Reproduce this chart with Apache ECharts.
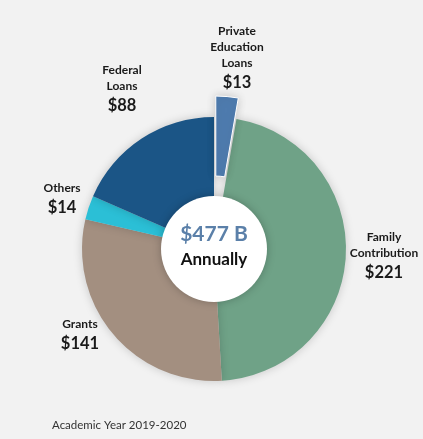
<!DOCTYPE html>
<html>
<head>
<meta charset="utf-8">
<script src="https://cdn.jsdelivr.net/npm/echarts@6/dist/echarts.min.js"></script>
<style>
html,body{margin:0;padding:0;background:#f2f2f2;}
#c{width:423px;height:439px;}
</style>
</head>
<body>
<div id="c"></div>
<script>
// Data
const categories = ['Private Education Loans', 'Family Contribution', 'Grants', 'Others', 'Federal Loans'];
const values = [13, 221, 141, 14, 88];
const colors = ['#4e7bae', '#6fa287', '#a38f80', '#2bbfd6', '#1b5586'];
const totalLabel = '$477 B';
const centerSub = 'Annually';
const footnote = 'Academic Year 2019-2020';

// Layout (label anchor points, not data)
const labelPos = [
  [237, 23],
  [384, 229],
  [80, 316],
  [62, 180],
  [122, 62]
];

const chart = echarts.init(document.getElementById('c'));
const FONT = 'Lato, "Open Sans", sans-serif';

const graphics = categories.map((name, i) => ({
  type: 'text',
  z: 100,
  style: {
    x: labelPos[i][0], y: labelPos[i][1],
    text: '{n|' + name.split(' ').join('}\n{n|') + '}\n{v|$' + values[i] + '}',
    textAlign: 'center',
    textVerticalAlign: 'top',
    fill: '#1a1a1a',
    font: 'bold 12px ' + FONT,
    rich: {
      n: {fontSize: 12, fontWeight: 'bold', lineHeight: 16, fontFamily: FONT, fill: '#1a1a1a'},
      v: {fontSize: 16.5, fontWeight: 'bold', lineHeight: 24, fontFamily: FONT, fill: '#1a1a1a'}
    }
  }
}));

graphics.push({
  type: 'text', z: 100,
  style: {x: 214, y: 234, text: totalLabel, textAlign: 'center', textVerticalAlign: 'middle',
    font: 'bold 21px ' + FONT, fill: '#5b80a9'}
});
graphics.push({
  type: 'text', z: 100,
  style: {x: 214, y: 260, text: centerSub, textAlign: 'center', textVerticalAlign: 'middle',
    font: 'bold 17px ' + FONT, fill: '#111'}
});
graphics.push({
  type: 'text', z: 100,
  style: {x: 52, y: 425, text: footnote, textAlign: 'left', textVerticalAlign: 'middle',
    font: '11.5px ' + FONT, fill: '#333'}
});

chart.setOption({
  backgroundColor: '#f2f2f2',
  animation: false,
  series: [
    {
      type: 'pie',
      z: 2,
      center: [214, 249],
      radius: [52, 132],
      startAngle: 90,
      clockwise: true,
      selectedMode: 'single',
      selectedOffset: 21,
      silent: true,
      label: {show: false},
      labelLine: {show: false},
      itemStyle: {shadowBlur: 10, shadowColor: 'rgba(0,0,0,0.18)'},
      data: categories.map((name, i) => ({
        name, value: values[i], selected: i === 0,
        itemStyle: i === 0 ? {color: colors[i], borderColor: '#ffffff', borderWidth: 1} : {color: colors[i]}
      }))
    },
    {
      type: 'pie',
      z: 3,
      center: [214, 249],
      radius: [0, 53],
      silent: true,
      label: {show: false},
      labelLine: {show: false},
      itemStyle: {color: '#ffffff', shadowBlur: 8, shadowColor: 'rgba(0,0,0,0.25)'},
      data: [{name: 'center', value: 1}]
    }
  ],
  graphic: {elements: graphics}
});
</script>
</body>
</html>
